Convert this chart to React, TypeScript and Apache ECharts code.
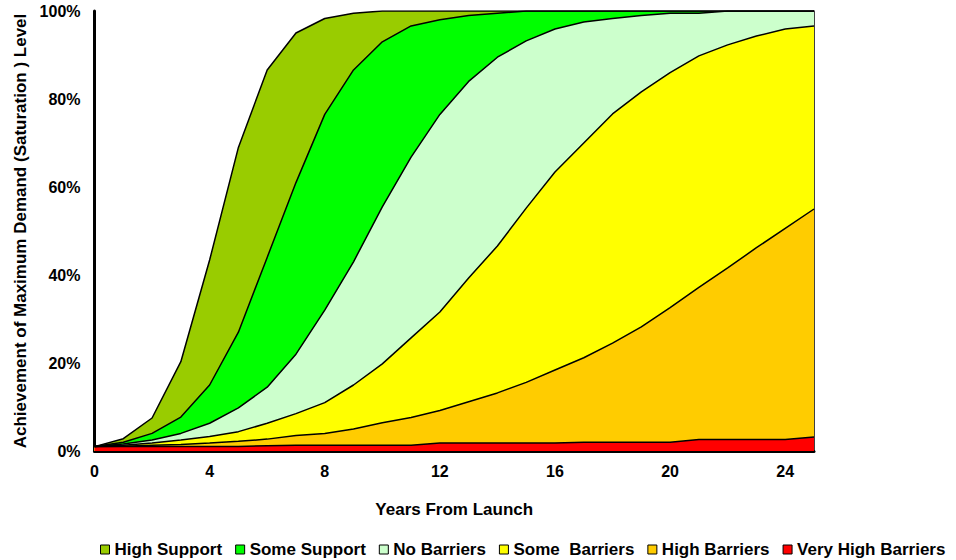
import React, { useEffect, useRef } from "react";
import * as echarts from "echarts";

const years = [0, 1, 2, 3, 4, 5, 6, 7, 8, 9, 10, 11, 12, 13, 14, 15, 16, 17, 18, 19, 20, 21, 22, 23, 24, 25];

const seriesNames = ["High Support", "Some Support", "No Barriers", "Some  Barriers", "High Barriers", "Very High Barriers"];
const seriesColors = ["#99CC00", "#00FF00", "#CCFFCC", "#FFFF00", "#FFCC00", "#FF0000"];

const highSupport = [1, 2.8, 7.5, 20.3, 43.4, 69, 86.6, 95, 98.3, 99.5, 100, 100, 100, 100, 100, 100, 100, 100, 100, 100, 100, 100, 100, 100, 100, 100];
const someSupport = [1, 2, 4, 7.7, 15, 27, 44, 61, 76.5, 86.6, 93, 96.6, 98, 99, 99.5, 100, 100, 100, 100, 100, 100, 100, 100, 100, 100, 100];
const noBarriers = [1, 1.6, 2.5, 4, 6.3, 9.8, 14.5, 22, 32, 43, 55.5, 66.8, 76.5, 84, 89.5, 93.2, 95.9, 97.5, 98.3, 99, 99.5, 99.5, 100, 100, 100, 100];
const someBarriers = [1, 1.3, 1.8, 2.5, 3.3, 4.4, 6.3, 8.5, 11, 15, 19.8, 25.7, 31.6, 39.3, 46.6, 55.2, 63.4, 70, 76.6, 81.6, 86, 89.8, 92.3, 94.3, 95.9, 96.6];
const highBarriers = [1, 1.1, 1.3, 1.5, 1.8, 2.2, 2.7, 3.5, 4, 5, 6.4, 7.6, 9.2, 11.2, 13.2, 15.6, 18.4, 21.2, 24.5, 28.2, 32.6, 37.2, 41.6, 46.2, 50.6, 55];
const veryHighBarriers = [1, 1, 1, 1, 1, 1, 1.2, 1.3, 1.3, 1.3, 1.3, 1.3, 1.8, 1.8, 1.8, 1.8, 1.8, 2, 2, 2, 2, 2.6, 2.6, 2.6, 2.6, 3.2];

const allValues = [highSupport, someSupport, noBarriers, someBarriers, highBarriers, veryHighBarriers];

const FONT = "Liberation Sans, Arial, sans-serif";

export default function App() {
  const ref = useRef<HTMLDivElement>(null);
  useEffect(() => {
    if (!ref.current) return;
    const chart = echarts.init(ref.current, undefined, { renderer: "svg" });
    const series = seriesNames.map((name, i) => ({
      name,
      type: "line",
      data: years.map((y, j) => [y, allValues[i][j]]),
      symbol: "none",
      color: seriesColors[i],
      itemStyle: { color: seriesColors[i], borderColor: "#000", borderWidth: 1 },
      lineStyle: { color: "#000", width: 1.5 },
      areaStyle: { color: seriesColors[i], opacity: 1 },
    }));
    chart.setOption({
      animation: false,
      backgroundColor: "#fff",
      textStyle: { fontFamily: FONT },
      grid: { left: 94.5, right: 142, top: 11, bottom: 109, containLabel: false },
      legend: {
        data: seriesNames,
        left: 95,
        top: 536,
        icon: "rect",
        itemWidth: 9,
        itemHeight: 9,
        itemGap: 13,
        itemStyle: { borderColor: "#000", borderWidth: 1 },
        textStyle: { fontFamily: FONT, fontWeight: "bold", fontSize: 17, color: "#000" },
      },
      xAxis: {
        type: "value",
        min: 0,
        max: 25,
        interval: 4,
        name: "Years From Launch",
        nameLocation: "middle",
        nameGap: 50,
        nameTextStyle: { fontFamily: FONT, fontWeight: "bold", fontSize: 17, color: "#000" },
        axisLine: { show: true, lineStyle: { color: "#000", width: 3 } },
        axisTick: { show: false },
        splitLine: { show: false },
        axisLabel: {
          showMaxLabel: false,
          margin: 12,
          fontFamily: FONT,
          fontWeight: "bold",
          fontSize: 16,
          color: "#000",
        },
      },
      yAxis: [
        {
          type: "value",
          min: 0,
          max: 100,
          interval: 20,
          name: "Achievement of Maximum Demand (Saturation ) Level",
          nameLocation: "middle",
          nameGap: 66,
          nameTextStyle: { fontFamily: FONT, fontWeight: "bold", fontSize: 17, color: "#000" },
          axisLine: { show: true, lineStyle: { color: "#000", width: 3 } },
          axisTick: { show: false },
          splitLine: { show: false },
          axisLabel: {
            formatter: "{value}%",
            margin: 14,
            fontFamily: FONT,
            fontWeight: "bold",
            fontSize: 16,
            color: "#000",
          },
        },
        {
          type: "value",
          min: 0,
          max: 100,
          position: "right",
          axisLine: { show: true, lineStyle: { color: "#000", width: 1.5 } },
          axisTick: { show: false },
          axisLabel: { show: false },
          splitLine: { show: false },
        },
      ],
      series,
    });
    return () => chart.dispose();
  }, []);
  return (
    <div
      ref={ref}
      style={{ position: "fixed", left: 0, top: 0, width: 956, height: 560 }}
    />
  );
}
